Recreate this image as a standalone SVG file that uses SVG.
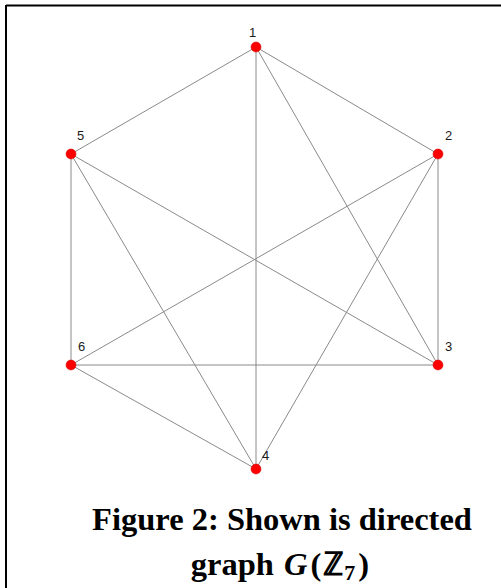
<svg xmlns="http://www.w3.org/2000/svg" width="501" height="588" viewBox="0 0 501 588">
<style>
.e{stroke:#8a8a8a;stroke-width:1;fill:none}
.n{fill:#ff0000;stroke:#cc0000;stroke-width:0.5}
.l{font-family:"Liberation Sans",Arial,sans-serif;font-size:13px;fill:#1a1a1a}
.c{font-family:"Liberation Serif","Times New Roman",serif;font-weight:bold;font-size:32.5px;fill:#000;text-anchor:middle}
</style>
<rect width="501" height="588" fill="#fff"/>
<path d="M6,5.5H501M6,5V588" stroke="#000" stroke-width="2" fill="none"/>
<g id="edges">
<line class="e" x1="256" y1="47" x2="438" y2="154"/>
<line class="e" x1="256" y1="47" x2="438" y2="365"/>
<line class="e" x1="256" y1="47" x2="256" y2="469"/>
<line class="e" x1="256" y1="47" x2="71" y2="154"/>
<line class="e" x1="438" y1="154" x2="438" y2="365"/>
<line class="e" x1="438" y1="154" x2="256" y2="469"/>
<line class="e" x1="438" y1="154" x2="71" y2="365"/>
<line class="e" x1="438" y1="365" x2="71" y2="154"/>
<line class="e" x1="438" y1="365" x2="71" y2="365"/>
<line class="e" x1="256" y1="469" x2="71" y2="154"/>
<line class="e" x1="256" y1="469" x2="71" y2="365"/>
<line class="e" x1="71" y1="154" x2="71" y2="365"/>
</g>
<g id="n1"><circle class="n" cx="256" cy="47" r="5"/><text class="l" x="249" y="37">1</text></g>
<g id="n2"><circle class="n" cx="438" cy="154" r="5"/><text class="l" x="445" y="140">2</text></g>
<g id="n3"><circle class="n" cx="438" cy="365" r="5"/><text class="l" x="445" y="351">3</text></g>
<g id="n4"><circle class="n" cx="256" cy="469" r="5"/><text class="l" x="262" y="460">4</text></g>
<g id="n5"><circle class="n" cx="71" cy="154" r="5"/><text class="l" x="77" y="140">5</text></g>
<g id="n6"><circle class="n" cx="71" cy="365" r="5"/><text class="l" x="78" y="351">6</text></g>
<g id="caption">
<text class="c" x="282" y="530">Figure 2: Shown is directed</text>
<text class="c" x="280" y="575">graph <tspan font-style="italic" dx="2">G</tspan><tspan dx="3">(</tspan><tspan dx="2">ℤ</tspan><tspan font-size="22" dy="5" dx="1">7</tspan><tspan dy="-5" dx="3">)</tspan></text>
</g>
</svg>
